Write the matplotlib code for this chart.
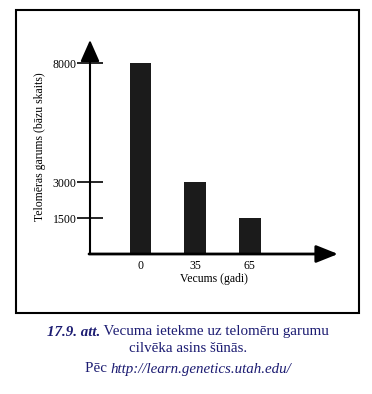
import matplotlib
matplotlib.use("Agg")
import matplotlib.pyplot as plt
from matplotlib.patches import Rectangle

# ---- data ----
ages = ["0", "35", "65"]
telomere_length = [8000, 3000, 1500]
y_ticks = [1500, 3000, 8000]
y_label = "Telomēras garums (bāzu skaits)"
x_label = "Vecums (gadi)"
caption_bold = "17.9. att."
caption_line1 = " Vecuma ietekme uz telomēru garumu"
caption_line2 = "cilvēka asins šūnās."
caption_src_prefix = "Pēc "
caption_src_url = "http://learn.genetics.utah.edu/"

W, H = 372, 394
DPI = 100
fig = plt.figure(figsize=(W / DPI, H / DPI), dpi=DPI)
fig.patch.set_facecolor("white")

serif = ["Liberation Serif", "DejaVu Serif"]
navy = "#1c1c72"

# outer frame
fig.patches.append(Rectangle((16 / W, 1 - 313 / H), (359 - 16) / W, (313 - 10) / H,
                             transform=fig.transFigure, fill=False,
                             edgecolor="black", linewidth=1.5))

# axes: origin at (90, 254) px, arrow tips at x=338, y=40
ax_l, ax_b = 90 / W, 1 - 254 / H
ax_w, ax_h = (338 - 90) / W, (254 - 40) / H
ax = fig.add_axes([ax_l, ax_b, ax_w, ax_h])
ax.set_facecolor("none")

x = list(range(len(ages)))
ax.bar(x, telomere_length, width=0.39, color="#1b1b1b", edgecolor="none", zorder=2)

ymax = max(telomere_length) * 214 / 191
ax.set_ylim(0, ymax)
ax.set_xlim(-0.92, 3.61)

for s in ax.spines.values():
    s.set_visible(False)

# axis lines with arrows
ax.annotate("", xy=(0, 1), xytext=(0, 0), xycoords="axes fraction",
            arrowprops=dict(arrowstyle="-|>,head_length=0.95,head_width=0.42",
                            mutation_scale=14, color="black", lw=1.5,
                            shrinkA=0, shrinkB=0), zorder=3)
ax.annotate("", xy=(1, 0), xytext=(-0.004, 0), xycoords="axes fraction",
            arrowprops=dict(arrowstyle="-|>,head_length=0.95,head_width=0.38",
                            mutation_scale=14, color="black", lw=2.0,
                            shrinkA=0, shrinkB=0), zorder=3)

ax.set_yticks(y_ticks)
ax.set_yticklabels([str(v) for v in y_ticks], family=serif, fontsize=8.5)
ax.tick_params(axis="y", direction="inout", length=19, width=1.2, pad=0, color="black")
ax.set_xticks(x)
ax.set_xticklabels(ages, family=serif, fontsize=8.5)
ax.tick_params(axis="x", length=0, pad=4)

ax.set_xlabel(x_label, family=serif, fontsize=8.5, labelpad=1)
ax.set_ylabel(y_label, family=serif, fontsize=8.5, labelpad=5)

# caption
cap_fs = 10.8
t1a = fig.text(0, 1 - 332 / H, caption_bold, family=serif, fontsize=cap_fs,
               weight="bold", style="italic", color=navy, va="center", ha="left")
t1b = fig.text(0, 1 - 332 / H, caption_line1, family=serif, fontsize=cap_fs,
               color=navy, va="center", ha="left")
t2 = fig.text(188 / W, 1 - 348 / H, caption_line2, family=serif, fontsize=cap_fs,
              color=navy, va="center", ha="center")
t3a = fig.text(0, 1 - 369 / H, caption_src_prefix, family=serif, fontsize=cap_fs,
               color=navy, va="center", ha="left")
t3b = fig.text(0, 1 - 369 / H, caption_src_url, family=serif, fontsize=cap_fs,
               style="italic", color=navy, va="center", ha="left")

fig.canvas.draw()
r = fig.canvas.get_renderer()


def place_row(parts, center_px):
    widths = [p.get_window_extent(r).width for p in parts]
    total = sum(widths)
    xpos = center_px - total / 2
    for p, w in zip(parts, widths):
        p.set_x(xpos / W)
        xpos += w


place_row([t1a, t1b], 188)
place_row([t3a, t3b], 188)

fig.savefig("out.png", dpi=DPI, facecolor="white")
